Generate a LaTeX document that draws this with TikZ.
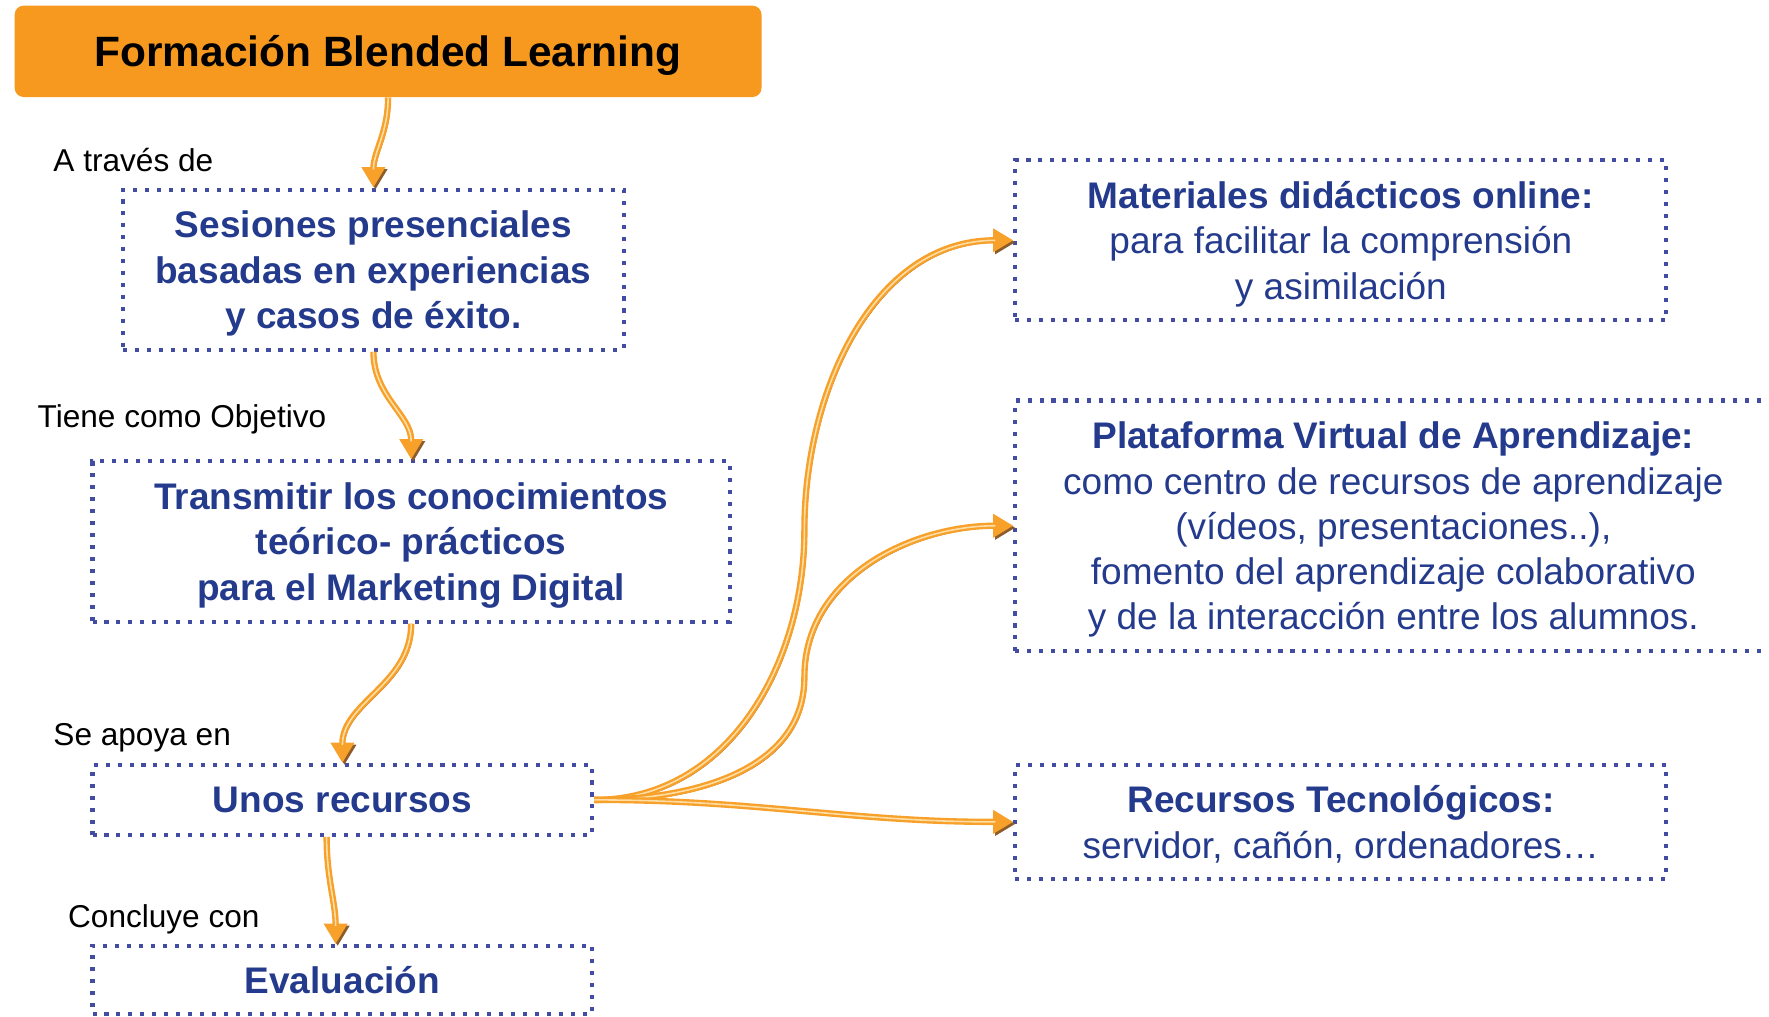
\documentclass[tikz,border=0pt]{standalone}
\usepackage{fontspec}
\setmainfont{Liberation Sans}
\usepackage{tikz}
\usetikzlibrary{arrows.meta}
\usepackage{xcolor}

\definecolor{titleor}{RGB}{247,153,31}
\definecolor{boxblue}{RGB}{36,58,140}
\definecolor{dotblue}{RGB}{66,76,162}
\definecolor{flowor}{RGB}{247,160,42}
\definecolor{flowlt}{RGB}{255,222,165}
\definecolor{flowbr}{RGB}{140,92,42}

\begin{document}
\begin{tikzpicture}[x=0.5pt, y=0.5pt,
    titlebox/.style={fill=titleor, rounded corners=4pt, inner sep=0pt, text depth=0pt,
        minimum width=331pt, minimum height=40.5pt,
        font=\fontsize{18.8}{22}\selectfont\bfseries},
    dotbox/.style={draw=dotblue, line width=1.8pt, dash pattern=on 1.8pt off 3.5pt,
        inner sep=0pt, text depth=0pt, align=center, text=boxblue,
        font=\fontsize{16.4}{20}\selectfont},
    steplabel/.style={anchor=west, inner sep=0pt, font=\fontsize{14}{16}\selectfont},
    flow/.style={draw=flowor, line width=2.8pt, -{Triangle[length=9pt,width=10pt]},
        preaction={draw=flowbr, transform canvas={shift={(0.9pt,-0.9pt)}}},
        postaction={draw=flowlt, line width=0.7pt, -, shorten >=8pt}}]

    % fix the page size
    \useasboundingbox (0,0) rectangle (1568,-901);

    % Draw the title
    \node[titlebox] (title) at (344,-45.5) {Formación Blended Learning};

    % Draw the left column of boxes
    \node[dotbox, minimum width=222pt, minimum height=71pt, font=\fontsize{16.4}{20}\selectfont\bfseries]
        (sesiones) at (331,-239) {Sesiones presenciales\\basadas en experiencias\\y casos de éxito.};
    \node[dotbox, minimum width=282.5pt, minimum height=71pt, font=\fontsize{16.4}{20}\selectfont\bfseries]
        (objetivo) at (364.5,-480) {Transmitir los conocimientos\\teórico- prácticos\\para el Marketing Digital};
    \node[dotbox, minimum width=221.5pt, minimum height=31pt, font=\fontsize{16.4}{20}\selectfont\bfseries]
        (recursos) at (303.5,-709) {Unos recursos};
    \node[dotbox, minimum width=221.5pt, minimum height=30pt, font=\fontsize{16.4}{20}\selectfont\bfseries]
        (evaluacion) at (303.5,-868.5) {Evaluación};

    % Draw the labels on the left
    \node[steplabel] (lbltraves) at (47,-142) {A través de};
    \node[steplabel] (lblobjetivo) at (33,-372) {Tiene como Objetivo};
    \node[steplabel] (lblapoya) at (47,-654) {Se apoya en};
    \node[steplabel] (lblconcluye) at (60,-815) {Concluye con};

    % Draw the right column of boxes
    \node[dotbox, minimum width=288.5pt, minimum height=71pt] (materiales) at (1188.5,-213)
        {{\bfseries Materiales didácticos online:}\\para facilitar la comprensión\\y asimilación};
    \node[dotbox, minimum width=335pt, minimum height=111pt] (plataforma) at (1235,-466)
        {{\bfseries Plataforma Virtual de Aprendizaje:}\\como centro de recursos de aprendizaje\\(vídeos, presentaciones..),\\fomento del aprendizaje colaborativo\\y de la interacción entre los alumnos.};
    \node[dotbox, minimum width=288.5pt, minimum height=50.5pt] (tecnologicos) at (1188.5,-728.5)
        {{\bfseries Recursos Tecnológicos:}\\servidor, cañón, ordenadores…};

    % bend points of the long arrows
    \coordinate (bendA) at (713,-470);
    \coordinate (bendB) at (713,-600);

    % Draw the arrows down the left column
    \draw[flow] (title.south) to[out=-90, in=90] (sesiones.north);
    \draw[flow] (sesiones.south) to[out=-90, in=90] (objetivo.north);
    \draw[flow] (objetivo.south) to[out=-90, in=90] (recursos.north);
    \draw[flow] ([xshift=-7pt]recursos.south) to[out=-90, in=90] ([xshift=-3pt]evaluacion.north);

    % Draw the arrows to the right column
    \draw[flow] (recursos.east) to[out=0, in=-90] (bendA) to[out=90, in=180] (materiales.west);
    \draw[flow] (recursos.east) to[out=0, in=-90] (bendB) to[out=90, in=180] (plataforma.west);
    \draw[flow] (recursos.east) to[out=0, in=180] (tecnologicos.west);
\end{tikzpicture}
\end{document}
